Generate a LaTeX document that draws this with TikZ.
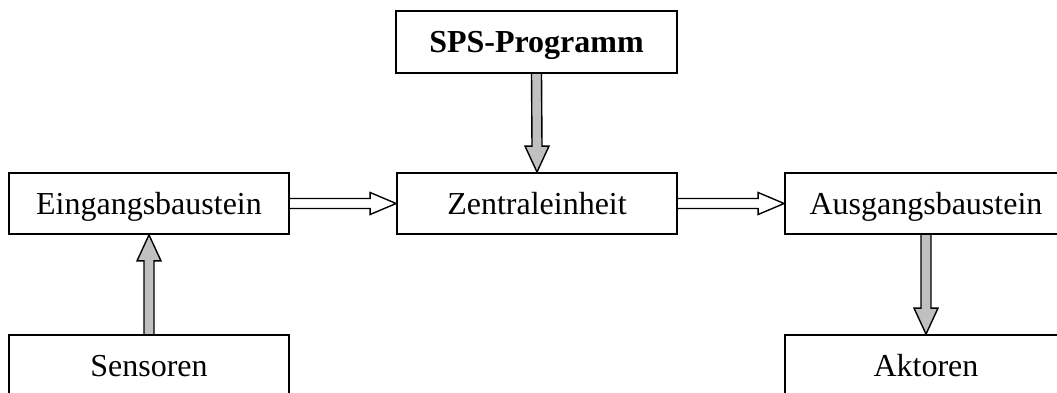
\documentclass[tikz,border=0pt]{standalone}
\usepackage{fontspec}
\setmainfont{Liberation Serif}
\usetikzlibrary{calc}
\definecolor{arrowgray}{RGB}{192,192,192}
\pgfdeclarelayer{bg}
\pgfsetlayers{bg,main}
\tikzset{
  block/.style={draw, line width=1.8pt, minimum height=61pt, inner sep=0pt,
    text height=28pt, text depth=7pt,
    font=\fontsize{32}{38}\selectfont},
  hollowarrow/.style={draw, line width=1.4pt, fill=white, line join=miter},
  grayarrow/.style={draw, line width=1.4pt, fill=arrowgray, line join=miter}
}
% horizontal hollow arrow from the east side of #1 to the west side of #2
\newcommand{\rightblockarrow}[2]{%
  \draw[hollowarrow] ($(#1.east)+(0,5)$) -- ($(#2.west)+(-26,5)$) -- ++(0,6)
    -- (#2.west) -- ($(#2.west)+(-26,-11)$) -- ++(0,6) -- ($(#1.east)+(0,-5)$);}
% grey arrow pointing down from #1 to #2
\newcommand{\downblockarrow}[2]{%
  \draw[grayarrow] ($(#1.south)+(-5,0)$) -- ($(#2.north)+(-5,26)$) -- ++(-7,0)
    -- (#2.north) -- ($(#2.north)+(12,26)$) -- ++(-7,0) -- ($(#1.south)+(5,0)$);}
% grey arrow pointing up from #1 to #2
\newcommand{\upblockarrow}[2]{%
  \draw[grayarrow] ($(#1.north)+(-5,0)$) -- ($(#2.south)+(-5,-26)$) -- ++(-7,0)
    -- (#2.south) -- ($(#2.south)+(12,-26)$) -- ++(-7,0) -- ($(#1.north)+(5,0)$);}
\begin{document}
\begin{tikzpicture}[x=1pt,y=1pt]
\path[use as bounding box] (0,0) rectangle (1057,392);
\clip (0,0) rectangle (1057,392);

\node[block, minimum width=281pt, minimum height=62pt, font=\fontsize{32}{38}\selectfont\bfseries]
  (sps) at (536.5,350) {SPS-Programm};
\node[block, minimum width=280pt] (ein) at (149,188.5) {Eingangsbaustein};
\node[block, minimum width=280pt] (zen) at (537,188.5) {Zentraleinheit};
\node[block, minimum width=282pt] (aus) at (926,188.5) {Ausgangsbaustein};
\node[block, minimum width=280pt] (sen) at (149,26.5) {Sensoren};
\node[block, minimum width=282pt] (akt) at (926,26.5) {Aktoren};

\begin{pgfonlayer}{bg}
  \rightblockarrow{ein}{zen}
  \rightblockarrow{zen}{aus}
  \downblockarrow{sps}{zen}
  \downblockarrow{aus}{akt}
  \upblockarrow{sen}{ein}
\end{pgfonlayer}
\end{tikzpicture}
\end{document}
